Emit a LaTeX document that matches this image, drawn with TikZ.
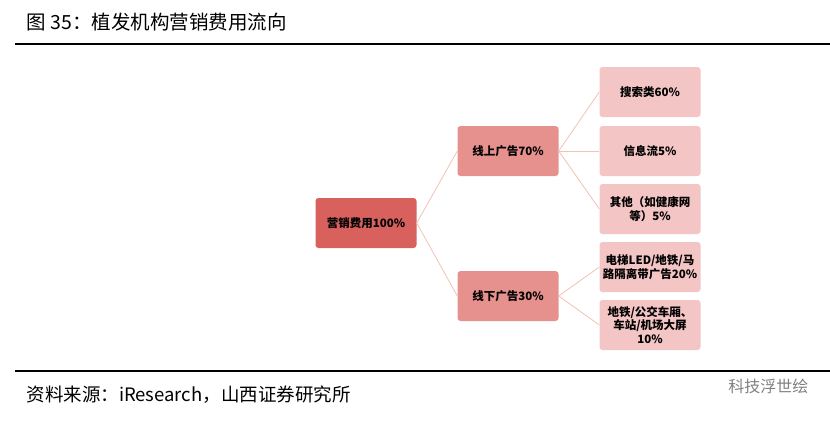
\documentclass[tikz,border=0pt]{standalone}
\usepackage{fontspec}
\setmainfont{Liberation Serif}
\newfontfamily\cjk{Noto Sans CJK SC}
\usetikzlibrary{positioning}

\definecolor{rootred}{HTML}{D8615E}
\definecolor{midred}{HTML}{E6918D}
\definecolor{leafred}{HTML}{F3C5C4}
\definecolor{linkred}{HTML}{F2C2B4}

\tikzset{
  box/.style={rounded corners=3pt, minimum width=101pt, minimum height=50pt,
    align=center, font=\cjk\fontsize{11.5}{13.5}\selectfont\bfseries, inner sep=1pt},
  rootbox/.style={box, fill=rootred},
  midbox/.style={box, fill=midred},
  leafbox/.style={box, fill=leafred, text width=99pt},
  link/.style={linkred, line width=0.8pt}
}

\begin{document}
\begin{tikzpicture}[x=1pt,y=-1pt]
  \useasboundingbox (0,0) rectangle (830,423);
  % title and rules
  \node[anchor=west, font=\cjk\fontsize{19.5}{22}\selectfont] (title) at (23,22) {图 35：植发机构营销费用流向};
  \draw[line width=1.5pt] (15,44) -- (830,44);
  \draw[line width=1.2pt] (15,371) -- (830,371);
  \node[anchor=west, font=\cjk\fontsize{18.5}{21}\selectfont] (source) at (23,395) {资料来源：iResearch，山西证券研究所};
  \node[anchor=east, font=\cjk\fontsize{16}{19}\selectfont, text=gray] (mark) at (812,386) {科技浮世绘};

  % boxes
  \node[rootbox] (total) at (366,223) {营销费用100\%};
  \node[midbox] (online) at (508,151) {线上广告70\%};
  \node[midbox] (offline) at (508,296) {线下广告30\%};
  \node[leafbox] (search) at (650,92) {搜索类60\%};
  \node[leafbox] (feed) at (650,151) {信息流5\%};
  \node[leafbox] (other) at (650,209) {其他（如健康网\\等）5\%};
  \node[leafbox] (elevator) at (650,267) {电梯LED/地铁/马\\路隔离带广告20\%};
  \node[leafbox] (metro) at (650,325) {地铁/公交车厢、\\车站/机场大屏\\10\%};

  % connectors
  \draw[link] (total.east) -- (online.west);
  \draw[link] (total.east) -- (offline.west);
  \draw[link] (online.east) -- (search.west);
  \draw[link] (online.east) -- (feed.west);
  \draw[link] (online.east) -- (other.west);
  \draw[link] (offline.east) -- (elevator.west);
  \draw[link] (offline.east) -- (metro.west);
\end{tikzpicture}
\end{document}
